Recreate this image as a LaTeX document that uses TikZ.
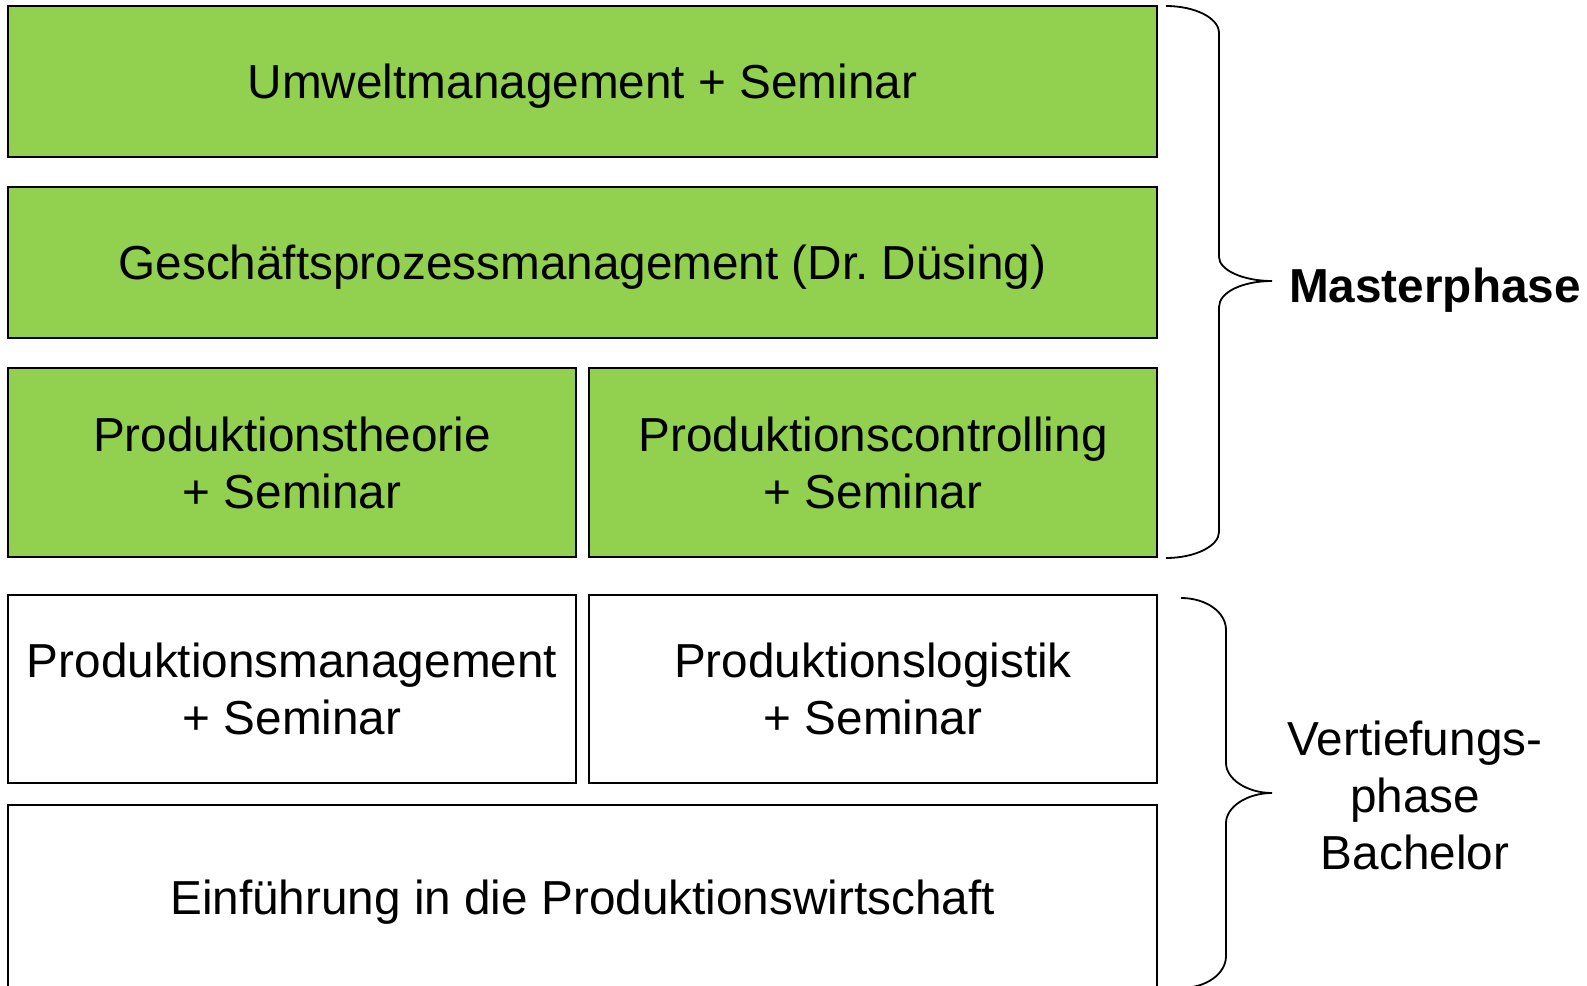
\documentclass[tikz,border=0pt]{standalone}
\usepackage{fontspec}
\setmainfont{Liberation Sans}
\usetikzlibrary{positioning}
\definecolor{modulgruen}{HTML}{92D050}
\tikzstyle{modul}=[draw,line width=1.8pt,fill=white,inner sep=2pt,outer sep=0pt,align=center]
\tikzstyle{gruen}=[modul,fill=modulgruen]
\tikzstyle{halbmodul}=[minimum width=568pt]
\tikzstyle{einzeilig}=[minimum width=1149pt,text depth=0pt]
\tikzstyle{klammer}=[draw,line width=1.8pt]

\begin{document}
\begin{tikzpicture}[x=1pt,y=-1pt,font=\fontsize{47.7}{57}\selectfont]
                \useasboundingbox (0,0) rectangle (1587,985);
                % Masterphase
                \node[gruen, einzeilig, minimum height=151pt, anchor=north west] (umwelt) at (8,6) {Umweltmanagement + Seminar};
                \node[gruen, einzeilig, minimum height=151pt, below=30pt of umwelt] (gpm) {Geschäftsprozessmanagement (Dr.\ Düsing)};
                \node[gruen, halbmodul, minimum height=189pt, below=30pt of gpm.south west, anchor=north west] (theorie) {Produktionstheorie\\+ Seminar};
                \node[gruen, halbmodul, minimum height=189pt, right=13pt of theorie] (controlling) {Produktionscontrolling\\+ Seminar};
                % Vertiefungsphase Bachelor
                \node[modul, halbmodul, minimum height=188pt, below=38pt of theorie] (management) {Produktionsmanagement\\+ Seminar};
                \node[modul, halbmodul, minimum height=188pt, right=13pt of management] (logistik) {Produktionslogistik\\+ Seminar};
                \node[modul, einzeilig, minimum height=185pt, below=22pt of management.south west, anchor=north west] (einfuehrung) {Einführung in die Produktionswirtschaft};
                % Klammern
                \draw[klammer] (1166,6) .. controls (1195,6) and (1219,18) .. (1219,33) -- (1219,257)
                    .. controls (1219,270) and (1243,281) .. (1272,281)
                    .. controls (1243,281) and (1219,292) .. (1219,307) -- (1219,532)
                    .. controls (1219,546) and (1195,558) .. (1166,558);
                \draw[klammer] (1181,598) .. controls (1206,598) and (1226,612) .. (1226,630) -- (1226,763)
                    .. controls (1226,779) and (1247,793) .. (1272,793)
                    .. controls (1247,793) and (1226,807) .. (1226,823) -- (1226,956)
                    .. controls (1226,974) and (1206,988) .. (1181,988);
                \node[anchor=base west, inner sep=0pt, font=\fontsize{47.7}{57}\selectfont\bfseries] (master) at (1289,302) {Masterphase};
                \node[align=center, inner sep=0pt] (bachelor) at (1415,795) {Vertiefungs-\\phase\\Bachelor};
            \end{tikzpicture}
\end{document}
